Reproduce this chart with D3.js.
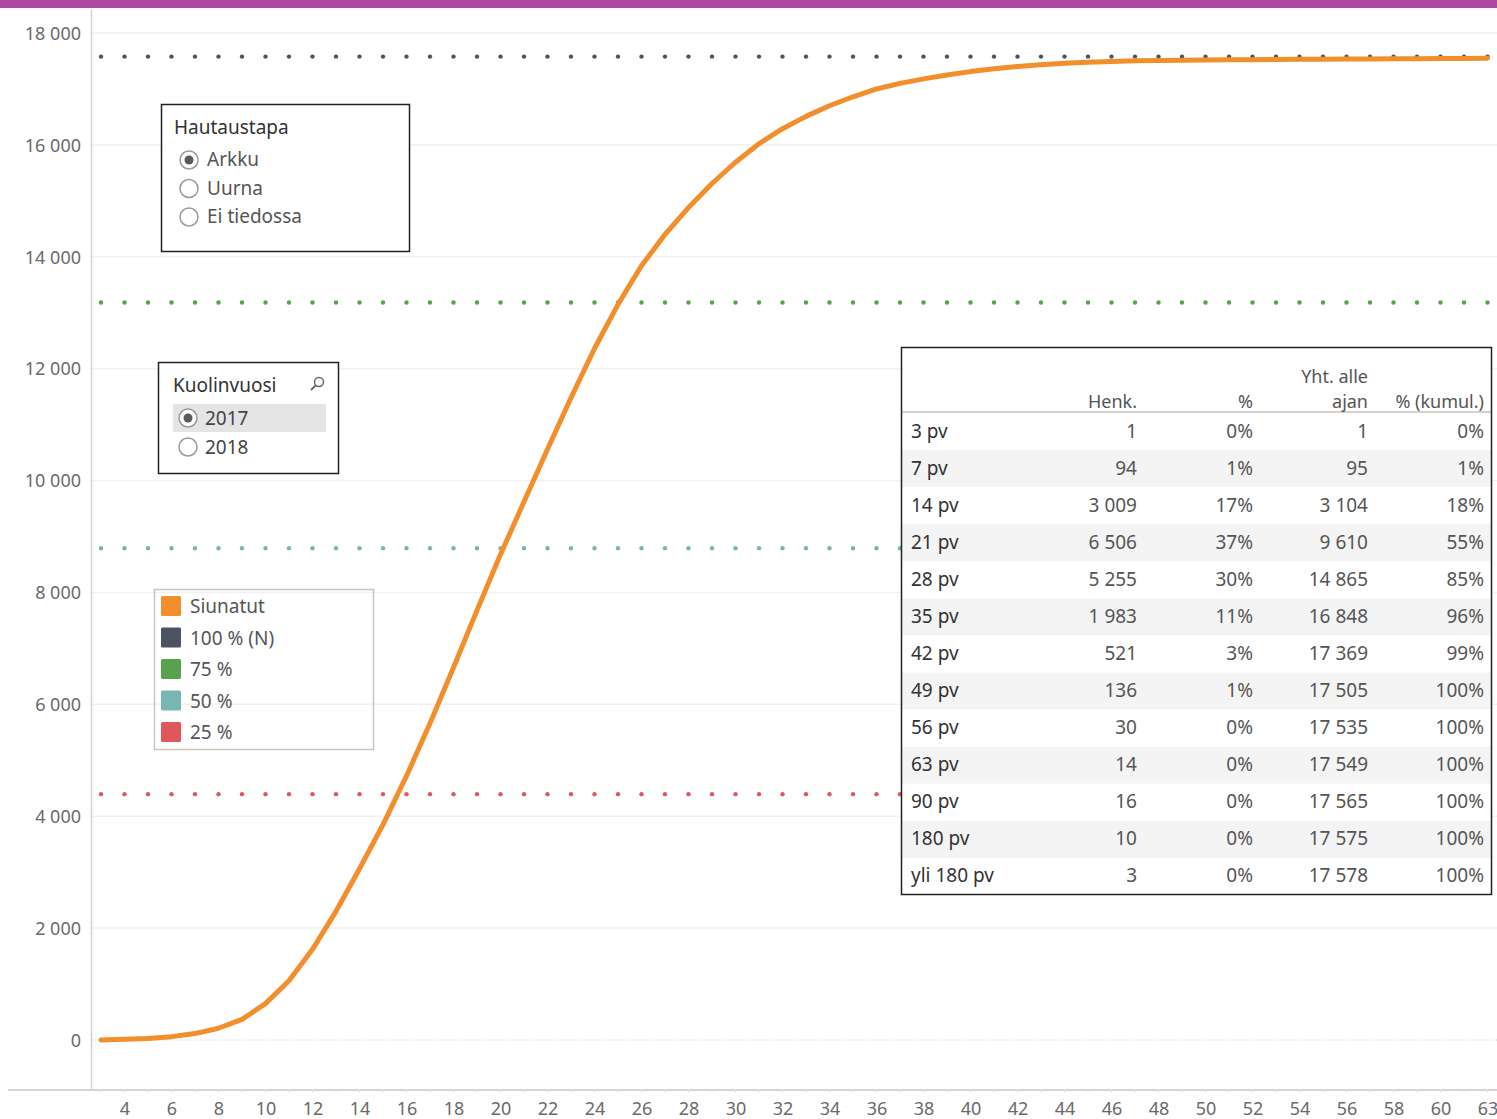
<!DOCTYPE html>
<html lang="fi">
<head>
<meta charset="utf-8">
<title>Siunatut</title>
<script src="https://cdn.jsdelivr.net/npm/d3@7"></script>
<style>
    html, body { margin: 0; padding: 0; background: #fff; }
    svg { display: block; font-family: "Noto Sans", "DejaVu Sans", sans-serif; }
</style>
</head>
<body>
<svg id="chart" width="1497" height="1119"></svg>
<script>
// Days on the (discrete) x axis and cumulative count of blessed per day
const days = [3, 4, 5, 6, 7, 8, 9, 10, 11, 12, 13, 14, 15, 16, 17, 18, 19, 20,
    21, 22, 23, 24, 25, 26, 27, 28, 29, 30, 31, 32, 33, 34, 35, 36, 37, 38, 39, 40,
    41, 42, 43, 44, 45, 46, 47, 48, 49, 50, 51, 52, 53, 54, 55, 56, 57, 58, 59, 60,
    61, 63];
const cumulative = [1, 12, 25, 60, 115, 210, 370, 650, 1060, 1620, 2300, 3060, 3850, 4720, 5660, 6660, 7680, 8680,
    9620, 10560, 11480, 12360, 13150, 13840, 14400, 14880, 15310, 15690, 16020, 16290, 16510, 16700, 16860, 17000, 17100, 17180, 17250, 17310,
    17360, 17400, 17432, 17458, 17478, 17492, 17502, 17509, 17514, 17518, 17521, 17524, 17527, 17530, 17533, 17535, 17537, 17539, 17541, 17543,
    17546, 17549];

// Reference levels (100 %, 75 %, 50 %, 25 % of N)
const refLabels = ['100 % (N)', '75 %', '50 %', '25 %'];
const refValues = [17578, 13183.5, 8789, 4394.5];

// Axis ticks
const yTicks = [0, 2000, 4000, 6000, 8000, 10000, 12000, 14000, 16000, 18000];
const xTickDays = [4, 6, 8, 10, 12, 14, 16, 18, 20, 22, 24, 26, 28, 30, 32, 34, 36, 38, 40,
    42, 44, 46, 48, 50, 52, 54, 56, 58, 60, 63];

// Table: bins and persons per bin
const binLabels = ['3 pv', '7 pv', '14 pv', '21 pv', '28 pv', '35 pv', '42 pv', '49 pv',
    '56 pv', '63 pv', '90 pv', '180 pv', 'yli 180 pv'];
const binCounts = [1, 94, 3009, 6506, 5255, 1983, 521, 136, 30, 14, 16, 10, 3];

// Filters
const burialTypes = ['Arkku', 'Uurna', 'Ei tiedossa'];
const deathYears = ['2017', '2018'];

const colors = {
    line: '#f28e2b',
    refs: ['#4b5262', '#59a14f', '#76b7b2', '#e15759']
};

const fi = d3.formatLocale({ decimal: ',', thousands: '\u00a0', grouping: [3], currency: ['', ' €'] });
const fmtNum = fi.format(',d');
const fmtPct = v => Math.round(v * 100) + '%';

const svg = d3.select('#chart');

// Top accent bar
svg.append('rect')
    .attr('x', 0).attr('y', 0)
    .attr('width', 1497).attr('height', 8)
    .attr('fill', '#ae48a2');

// Scales
const x = d3.scalePoint().domain(days).range([101, 1487.5]);
const y = d3.scaleLinear().domain([0, 18000]).range([1040, 33]);

// Gridlines
svg.append('g')
    .selectAll('line')
    .data(yTicks.filter(d => d > 0))
    .enter()
    .append('line')
    .attr('x1', 92).attr('x2', 1497)
    .attr('y1', d => y(d)).attr('y2', d => y(d))
    .attr('stroke', '#f1f1f1')
    .attr('stroke-width', 1.5);

// Zero line
svg.append('line')
    .attr('x1', 92).attr('x2', 1497)
    .attr('y1', y(0)).attr('y2', y(0))
    .attr('stroke', '#c8c8c8')
    .attr('stroke-width', 1)
    .attr('stroke-dasharray', '1,2');

// Y axis
const yAxis = svg.append('g')
    .attr('transform', 'translate(81,0)')
    .call(d3.axisLeft(y).tickValues(yTicks).tickSize(0).tickFormat(fmtNum));
yAxis.select('.domain').remove();
yAxis.selectAll('text')
    .attr('x', 0)
    .attr('dy', '0.35em')
    .style('font-size', '18px')
    .style('fill', '#6a6a6a')
    .style('font-family', '"Noto Sans", sans-serif');

svg.append('line')
    .attr('x1', 91.5).attr('x2', 91.5)
    .attr('y1', 10).attr('y2', 1090)
    .attr('stroke', '#d0d0d0')
    .attr('stroke-width', 1.5);

// X axis
svg.append('line')
    .attr('x1', 8).attr('x2', 1497)
    .attr('y1', 1090).attr('y2', 1090)
    .attr('stroke', '#d4d4d4')
    .attr('stroke-width', 2);

svg.append('g')
    .selectAll('line')
    .data(days)
    .enter()
    .append('line')
    .attr('x1', d => x(d)).attr('x2', d => x(d))
    .attr('y1', 1089).attr('y2', 1093)
    .attr('stroke', '#e6e6e6');

const xAxis = svg.append('g')
    .attr('transform', 'translate(0,1090)')
    .call(d3.axisBottom(x).tickValues(xTickDays).tickSize(0));
xAxis.select('.domain').remove();
xAxis.selectAll('text')
    .attr('y', 12)
    .attr('dy', '0.71em')
    .style('font-size', '18px')
    .style('fill', '#6a6a6a')
    .style('font-family', '"Noto Sans", sans-serif');

// Reference level dots
refValues.forEach((v, i) => {
    svg.append('g')
        .selectAll('circle')
        .data(days)
        .enter()
        .append('circle')
        .attr('cx', d => x(d))
        .attr('cy', y(v))
        .attr('r', 2.2)
        .attr('fill', colors.refs[i]);
});

// Cumulative curve
const line = d3.line()
    .x((d, i) => x(days[i]))
    .y(d => y(d));

svg.append('path')
    .datum(cumulative)
    .attr('d', line)
    .attr('fill', 'none')
    .attr('stroke', colors.line)
    .attr('stroke-width', 5)
    .attr('stroke-linecap', 'round')
    .attr('stroke-linejoin', 'round');

// Radio helper
function radio(g, cx, cy, selected) {
    g.append('circle')
        .attr('cx', cx).attr('cy', cy).attr('r', 9)
        .attr('fill', '#fff')
        .attr('stroke', '#9a9a9a')
        .attr('stroke-width', 1.5);
    if (selected) {
        g.append('circle')
            .attr('cx', cx).attr('cy', cy).attr('r', 4.5)
            .attr('fill', '#5a5a5a');
    }
}

// Hautaustapa filter box
const f1 = svg.append('g');
f1.append('rect')
    .attr('x', 161.5).attr('y', 104.5)
    .attr('width', 248).attr('height', 147)
    .attr('fill', '#fff')
    .attr('stroke', '#222')
    .attr('stroke-width', 1.5);
f1.append('text')
    .attr('x', 174).attr('y', 134)
    .style('font-size', '19px')
    .style('fill', '#333')
    .text('Hautaustapa');
burialTypes.forEach((t, i) => {
    const cy = 160 + i * 28.5;
    radio(f1, 189, cy, i === 0);
    f1.append('text')
        .attr('x', 207).attr('y', cy + 6)
        .style('font-size', '19px')
        .style('fill', '#555')
        .text(t);
});

// Kuolinvuosi filter box
const f2 = svg.append('g');
f2.append('rect')
    .attr('x', 158.5).attr('y', 362.5)
    .attr('width', 180).attr('height', 111)
    .attr('fill', '#fff')
    .attr('stroke', '#222')
    .attr('stroke-width', 1.5);
f2.append('text')
    .attr('x', 173).attr('y', 392)
    .style('font-size', '19px')
    .style('fill', '#333')
    .text('Kuolinvuosi');
// search icon
f2.append('circle')
    .attr('cx', 319).attr('cy', 382).attr('r', 4.5)
    .attr('fill', 'none').attr('stroke', '#666').attr('stroke-width', 1.5);
f2.append('line')
    .attr('x1', 315.5).attr('y1', 385.5).attr('x2', 311).attr('y2', 390)
    .attr('stroke', '#666').attr('stroke-width', 1.8);
f2.append('rect')
    .attr('x', 173).attr('y', 404)
    .attr('width', 153).attr('height', 28)
    .attr('fill', '#e4e4e4');
deathYears.forEach((t, i) => {
    const cy = 418 + i * 29;
    radio(f2, 188, cy, i === 0);
    f2.append('text')
        .attr('x', 205).attr('y', cy + 7)
        .style('font-size', '19px')
        .style('fill', '#444')
        .text(t);
});

// Colour legend
const lg = svg.append('g');
lg.append('rect')
    .attr('x', 154.5).attr('y', 589.5)
    .attr('width', 219).attr('height', 160)
    .attr('fill', 'none')
    .attr('stroke', '#c9c5b8')
    .attr('stroke-width', 1.5);
const legendItems = ['Siunatut'].concat(refLabels);
const legendColors = [colors.line].concat(colors.refs);
legendItems.forEach((t, i) => {
    const cy = 606 + i * 31.5;
    lg.append('rect')
        .attr('x', 161).attr('y', cy - 10)
        .attr('width', 20).attr('height', 20)
        .attr('rx', 1.5)
        .attr('fill', legendColors[i]);
    lg.append('text')
        .attr('x', 190).attr('y', cy + 7)
        .style('font-size', '19px')
        .style('fill', '#555')
        .text(t);
});

// Summary table
const total = refValues[0];
let run = 0;
const rows = binLabels.map((label, i) => {
    run += binCounts[i];
    return {
        label: label,
        n: binCounts[i],
        pct: binCounts[i] / total,
        cum: run,
        cumPct: run / total
    };
});

const tb = svg.append('g');
tb.append('rect')
    .attr('x', 901.5).attr('y', 347.5)
    .attr('width', 590).attr('height', 547)
    .attr('fill', '#fff');

const rowY = d3.scaleBand()
    .domain(d3.range(rows.length))
    .range([413, 895]);

tb.selectAll('.band')
    .data(rows)
    .enter()
    .append('rect')
    .attr('class', 'band')
    .attr('x', 902).attr('y', (d, i) => rowY(i))
    .attr('width', 589).attr('height', rowY.bandwidth())
    .attr('fill', (d, i) => i % 2 ? '#f4f4f4' : '#fff');

tb.append('line')
    .attr('x1', 902).attr('x2', 1491)
    .attr('y1', 412).attr('y2', 412)
    .attr('stroke', '#d2d2d2')
    .attr('stroke-width', 2);

const colRight = [1137, 1253, 1368, 1484];
const headers = ['Henk.', '%', 'ajan', '% (kumul.)'];
headers.forEach((h, i) => {
    tb.append('text')
        .attr('x', colRight[i]).attr('y', 408)
        .attr('text-anchor', 'end')
        .style('font-size', '18px')
        .style('fill', '#555')
        .text(h);
});
tb.append('text')
    .attr('x', colRight[2]).attr('y', 383)
    .attr('text-anchor', 'end')
    .style('font-size', '18px')
    .style('fill', '#555')
    .text('Yht. alle');

rows.forEach((r, i) => {
    const ty = rowY(i) + rowY.bandwidth() / 2 + 6;
    tb.append('text')
        .attr('x', 911).attr('y', ty)
        .style('font-size', '19px')
        .style('fill', '#333')
        .text(r.label);
    [fmtNum(r.n), fmtPct(r.pct), fmtNum(r.cum), fmtPct(r.cumPct)].forEach((v, j) => {
        tb.append('text')
            .attr('x', colRight[j]).attr('y', ty)
            .attr('text-anchor', 'end')
            .style('font-size', '19px')
            .style('fill', '#555')
            .text(v);
    });
});

tb.append('rect')
    .attr('x', 901.5).attr('y', 347.5)
    .attr('width', 590).attr('height', 547)
    .attr('fill', 'none')
    .attr('stroke', '#222')
    .attr('stroke-width', 1.5);
</script>
</body>
</html>
